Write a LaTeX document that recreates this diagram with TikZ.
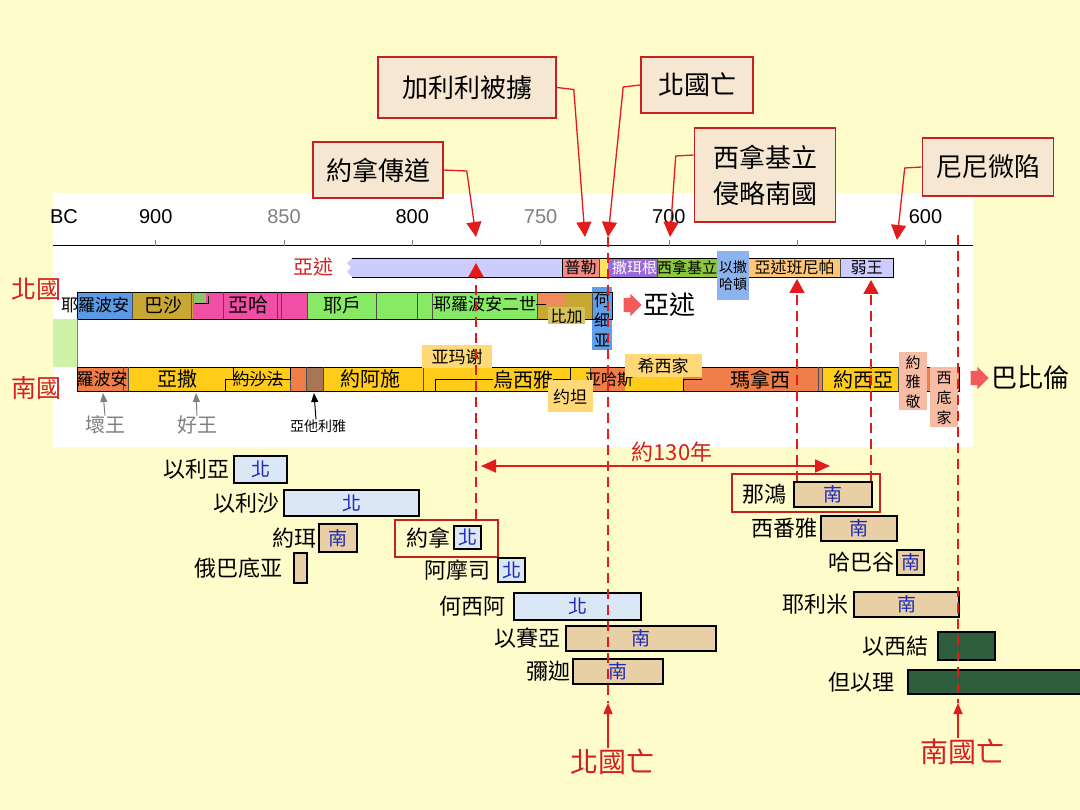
\documentclass[tikz,border=0pt]{standalone}
\usepackage{fontspec}
\setmainfont{Liberation Sans}
\newfontfamily\cjk{Noto Sans CJK TC}
\usepackage{xcolor}
\usetikzlibrary{positioning, arrows.meta, shapes.arrows}

\newcommand{\fsz}[1]{\fontsize{#1}{#1}\selectfont}

\definecolor{bgyellow}{HTML}{FFFCCB}
\definecolor{papyrus}{HTML}{F6E7D3}
\definecolor{framered}{HTML}{C8201E}
\definecolor{arrowred}{HTML}{E41B1B}
\definecolor{labelred}{HTML}{D42020}
\definecolor{assyrialav}{HTML}{CCCCFF}
\definecolor{pulpink}{HTML}{F28A8A}
\definecolor{tinyyellow}{HTML}{FFE45C}
\definecolor{sargonpurple}{HTML}{9A6ADB}
\definecolor{sennagreen}{HTML}{8DC63F}
\definecolor{esarblue}{HTML}{8DB3EE}
\definecolor{ashurorange}{HTML}{FFC677}
\definecolor{jerblue}{HTML}{5B9BE6}
\definecolor{bashaolive}{HTML}{C9A832}
\definecolor{ahabpink}{HTML}{F04FA5}
\definecolor{nadabgreen}{HTML}{8FC46A}
\definecolor{jehugreen}{HTML}{86EA64}
\definecolor{pekahorange}{HTML}{F08A5C}
\definecolor{pekaholive}{HTML}{D5C25A}
\definecolor{hosheablue}{HTML}{5F9FEA}
\definecolor{greenpad}{HTML}{CDF2A8}
\definecolor{rehoorange}{HTML}{F07E48}
\definecolor{asayellow}{HTML}{FFCC1A}
\definecolor{athabrown}{HTML}{A87556}
\definecolor{overlayyellow}{HTML}{FFD877}
\definecolor{salmonpale}{HTML}{F8BCA4}
\definecolor{fatred}{HTML}{F25B5B}
\definecolor{northfill}{HTML}{DCE7F5}
\definecolor{southfill}{HTML}{E8CFA5}
\definecolor{exilegreen}{HTML}{2F5E3F}
\definecolor{kingblue}{HTML}{1E2AB8}

\begin{document}
\begin{tikzpicture}[x=1pt, y=-1pt,
calloutbox/.style={draw=framered, line width=1.6pt, fill=papyrus, font=\cjk\fontsize{26}{36}\selectfont, inner sep=0pt, align=center},
calloutline/.style={draw=arrowred, line width=1.3pt, -{Triangle[width=15pt,length=15pt]}},
dashline/.style={draw=arrowred, line width=1.8pt, dash pattern=on 10pt off 6pt},
uparrow/.style={dashline, -{Triangle[width=15pt,length=14pt]}},
bottomarrow/.style={draw=arrowred, line width=1.5pt, -{Triangle[width=9pt,length=11pt]}},
spanarrow/.style={draw=arrowred, line width=1.8pt, {Triangle[width=13pt,length=15pt]}-{Triangle[width=13pt,length=15pt]}},
kingarrow/.style={line width=1pt, -{Triangle[width=7pt,length=9pt]}},
bartext/.style={inner sep=0pt, font=\cjk\fsz{#1}},
bartext/.default=17,
stacktext/.style 2 args={inner sep=0pt, align=center, font=\cjk\fontsize{#1}{#2}\selectfont},
barline/.style={draw=black, line width=0.7pt},
sepline/.style={draw=black!70, line width=0.5pt},
yearlabel/.style={font=\fsz{20}, inner sep=0pt},
prophet/.style={font=\cjk\fsz{22}, inner sep=1pt},
pbox/.style={draw=black, line width=1.4pt, inner sep=0pt, font=\cjk\fsz{19}, text=kingblue},
northbox/.style={pbox, fill=northfill},
southbox/.style={pbox, fill=southfill},
exilebox/.style={pbox, fill=exilegreen},
focusframe/.style={draw=framered, line width=2pt, inner sep=0pt},
fatarrow/.style={single arrow, fill=fatred, inner sep=0pt, text height=7pt, text depth=7pt, text width=8pt, minimum height=18pt, single arrow head extend=4pt, single arrow head indent=0pt},
redlabel/.style={text=labelred, font=\cjk\fsz{#1}, inner sep=1pt},
redlabel/.default=28,
]

% Page and chart panel
\fill[bgyellow] (0,0) rectangle (1080,810);
\useasboundingbox (0,0) rectangle (1080,810);
\fill[white] (53,193) rectangle (973,447);

% Time axis
\draw[line width=1pt] (53,246) -- (973,246);
\foreach \yr in {900,850,...,600}
  \draw[gray, line width=0.8pt] ({155.7+(900-\yr)*2.566},240) -- ++(0,6);
\node[yearlabel] (bc) at (64,217) {BC};
\foreach \yr/\col in {900/black,850/gray,800/black,750/gray,700/black,600/black}
  \node[yearlabel, text=\col] (y\yr) at ({155.7+(900-\yr)*2.566},217) {\yr};

% Event callouts
\node[calloutbox, minimum width=178pt, minimum height=61pt] (galilee) at (467,87.5) {加利利被擄};
\node[calloutbox, minimum width=112pt, minimum height=56pt] (northfall) at (697,85) {北國亡};
\node[calloutbox, minimum width=130pt, minimum height=56pt] (jonahpreach) at (378,170) {約拿傳道};
\node[calloutbox, minimum width=141pt, minimum height=94pt] (invasion) at (765,175) {西拿基立\\侵略南國};
\node[calloutbox, minimum width=131pt, minimum height=58pt] (nineveh) at (988,167) {尼尼微陷};

\coordinate (tipjonah) at (476,237);
\coordinate (tipgalilee) at (585,237);
\coordinate (tipnorth) at (608,237);
\coordinate (tipinvasion) at (670,237);
\coordinate (tipnineveh) at (897,240);

\draw[calloutline] (jonahpreach.east) -- ++(23,1) -- (tipjonah);
\draw[calloutline] (galilee.east) -- ++(17,2) -- (tipgalilee);
\draw[calloutline] (northfall.west) -- ++(-17,2) -- (tipnorth);
\draw[calloutline] (invasion.west) ++(0,-20) -- ++(-18,1) -- (tipinvasion);
\draw[calloutline] (nineveh.west) -- ++(-17,1) -- (tipnineveh);

% Assyria row
\fill[assyrialav] (352,258) -- (562,258) -- (562,277) -- (352,277) -- (347,272) -- (351,267.5) -- (347,263) -- cycle;
\fill[pulpink] (562,258) rectangle (599,277);
\fill[tinyyellow] (599,258) rectangle (608,277);
\fill[sargonpurple] (608,258) rectangle (657,277);
\fill[sennagreen] (657,258) rectangle (717,277);
\fill[ashurorange] (749,258) rectangle (840,277);
\fill[assyrialav] (840,258) rectangle (893,277);
\draw[barline] (352,258) -- (562,258) (352,277) -- (562,277);
\draw[barline] (562,258) rectangle (893,277);
\draw[sepline] (599,258) -- (599,277) (657,258) -- (657,277) (840,258) -- (840,277);
\fill[esarblue] (717,251) rectangle (749,300);

\node[redlabel=20] (assyria) at (313,267) {亞述};
\node[bartext=16] (pul) at (580.5,267.5) {普勒};
\node[bartext=15, text=white] (sargon) at (634.5,267.5) {撒珥根};
\node[bartext=15] (sennacherib) at (687,267.5) {西拿基立};
\node[stacktext={14}{17}] (esarhaddon) at (733,276) {以撒\\哈頓};
\node[bartext=16] (ashurbanipal) at (794.5,267.5) {亞述班尼帕};
\node[bartext=16] (weakkings) at (866.5,267.5) {弱王};

% Northern kingdom
\fill[jerblue] (77,292) rectangle (132,319);
\fill[bashaolive] (132,292) rectangle (193,319);
\fill[ahabpink] (193,292) rectangle (307,319);
\fill[nadabgreen] (194,292) rectangle (206,303);
\fill[jehugreen] (307,292) rectangle (537,319);
\fill[bashaolive] (537,292) rectangle (592,319);
\fill[pekahorange] (537,292) rectangle (566,305);
\fill[hosheablue] (592,287) rectangle (612,350);
\draw[barline] (77,292) rectangle (612,319);
\foreach \xx in {132,191,223,277,281,307,376,417,432,537,592}
  \draw[sepline] (\xx,292) -- (\xx,319);
\draw[barline] (195,303) -- (208,303) -- (208,296);
\fill[pekaholive] (548,307) rectangle (585,324);

\node[redlabel=25] (northking) at (37,289) {北國};
\node[bartext=17] (jeroboam) at (95,305) {耶羅波安};
\node[bartext=19] (baasha) at (163,305) {巴沙};
\node[bartext=20] (ahab) at (248,305) {亞哈};
\node[bartext=19] (jehu) at (342,305) {耶戶};
\node[bartext=17] (jeroboamii) at (485,304) {耶羅波安二世};
\draw[barline] (433,304) -- (444,304) (536,304) -- (546,304);
\node[bartext=16] (pekah) at (566.5,316) {比加};
\node[stacktext={16}{20}] (hoshea) at (602,320) {何\\细\\亚};
\node[fatarrow] (toassyria) at (629,305) {};
\node[bartext=26] (assyriaexile) at (669,305) {亞述};

\fill[greenpad] (53,319) rectangle (77,367);
\draw[gray, line width=0.6pt] (77,319) -- (77,367);

% Southern kingdom
\fill[rehoorange] (77,367) rectangle (128,391);
\fill[asayellow] (128,367) rectangle (290,391);
\fill[rehoorange] (290,367) rectangle (306,391);
\fill[athabrown] (306,367) rectangle (323,391);
\fill[asayellow] (323,367) rectangle (590,391);
\fill[rehoorange] (590,367) rectangle (625,391);
\fill[asayellow] (625,367) rectangle (683,391);
\fill[rehoorange] (683,367) rectangle (822,391);
\fill[asayellow] (822,367) rectangle (898,391);
\fill[rehoorange] (898,367) rectangle (959,391);
\draw[barline] (77,367) rectangle (959,391);
\foreach \xx in {123,128,290,306,323,423,590,818,822,898}
  \draw[sepline] (\xx,367) -- (\xx,391);
\draw[barline] (225,391) -- (225,379) -- (290,379) -- (290,367);
\draw[barline] (233,367) -- (233,379);
\draw[barline] (435,391) -- (435,379) -- (570,379) -- (570,367);
\draw[barline] (683,391) -- (683,379) -- (702,379);
\draw[barline] (580,380) -- (590,380);

\node[redlabel=25] (southking) at (37,388) {南國};
\node[bartext=17] (rehoboam) at (102,379) {羅波安};
\node[bartext=20] (asa) at (177,379) {亞撒};
\node[bartext=17] (jehoshaphat) at (258,379) {約沙法};
\node[bartext=20] (joash) at (370,379) {約阿施};
\node[bartext=20, fill=asayellow] (uzziah) at (523,380) {烏西雅};
\node[bartext=16] (ahaz) at (609,380) {亚哈斯};
\node[bartext=20] (manasseh) at (760,380) {瑪拿西};
\node[bartext=20] (josiah) at (863,380) {約西亞};

\fill[overlayyellow] (422,345) rectangle (492,368);
\node[bartext=17] (amaziah) at (457,357) {亚玛谢};
\fill[overlayyellow] (548,380) rectangle (593,412);
\node[bartext=17] (jotham) at (570,397) {约坦};
\fill[overlayyellow] (625,354) rectangle (702,377);
\node[bartext=17] (hezekiah) at (663,366) {希西家};
\fill[salmonpale] (899,352) rectangle (927,410);
\node[stacktext={15}{19.5}] (jehoiakim) at (913,382) {約\\雅\\敬};
\fill[salmonpale] (930,367) rectangle (958,427);
\node[stacktext={15}{20}] (zedekiah) at (944,398) {西\\底\\家};
\node[fatarrow] (tobabylon) at (976,378) {};
\node[bartext=26] (babylon) at (1030,378) {巴比倫};

% Kings under the bar
\node[bartext=20, text=gray] (badking) at (105,425) {壞王};
\node[bartext=20, text=gray] (goodking) at (197,425) {好王};
\node[bartext=14] (athaliah) at (318,426) {亞他利雅};
\coordinate (badtip) at (103,393);
\coordinate (goodtip) at (196,393);
\coordinate (athtip) at (314,393);
\draw[kingarrow, gray] (badking.north) -- (badtip);
\draw[kingarrow, gray] (goodking.north) -- (goodtip);
\draw[kingarrow] ([xshift=-2pt]athaliah.north) -- (athtip);

% Prophets
\node[northbox, minimum width=53pt, minimum height=27pt] (elijahbox) at (260.5,469.5) {北};
\node[prophet, left=3pt of elijahbox] (elijah) {以利亞};
\node[northbox, minimum width=135pt, minimum height=26pt] (elishabox) at (351.5,503) {北};
\node[prophet, left=3pt of elishabox] (elisha) {以利沙};
\node[southbox, minimum width=38pt, minimum height=28pt] (joelbox) at (338,538) {南};
\node[prophet, left=1pt of joelbox] (joel) {約珥};
\node[southbox, minimum width=13pt, minimum height=30pt] (obadiahbox) at (300.5,568) {};
\node[prophet, left=10pt of obadiahbox] (obadiah) {俄巴底亚};
\node[focusframe, minimum width=103pt, minimum height=37pt] (jonahframe) at (446.5,538.5) {};
\node[northbox, minimum width=27pt, minimum height=23pt] (jonahbox) at (467.5,537.5) {北};
\node[prophet, left=2pt of jonahbox] (jonah) {約拿};
\node[northbox, minimum width=27pt, minimum height=24pt] (amosbox) at (511.5,570) {北};
\node[prophet, left=6pt of amosbox] (amos) {阿摩司};
\node[northbox, minimum width=127pt, minimum height=27pt] (hoseabox) at (577.5,606.5) {北};
\node[prophet, left=7pt of hoseabox] (hosea) {何西阿};
\node[southbox, minimum width=150pt, minimum height=25pt] (isaiahbox) at (641,638.5) {南};
\node[prophet, left=4pt of isaiahbox] (isaiah) {以賽亞};
\node[southbox, minimum width=90pt, minimum height=25pt] (micahbox) at (618,671.5) {南};
\node[prophet, left=1pt of micahbox] (micah) {彌迦};

\node[focusframe, minimum width=148pt, minimum height=38pt] (nahumframe) at (806,493) {};
\node[southbox, minimum width=78pt, minimum height=25pt] (nahumbox) at (833,494.5) {南};
\node[prophet, left=6pt of nahumbox] (nahum) {那鴻};
\node[southbox, minimum width=76pt, minimum height=25pt] (zephaniahbox) at (859,528.5) {南};
\node[prophet, left=2pt of zephaniahbox] (zephaniah) {西番雅};
\node[southbox, minimum width=27pt, minimum height=25pt] (habakkukbox) at (910.5,562.5) {南};
\node[prophet, left=1pt of habakkukbox] (habakkuk) {哈巴谷};
\node[southbox, minimum width=105pt, minimum height=25pt] (jeremiahbox) at (906.5,604.5) {南};
\node[prophet, left=4pt of jeremiahbox] (jeremiah) {耶利米};
\node[exilebox, minimum width=57pt, minimum height=28pt] (ezekielbox) at (966.5,646) {};
\node[prophet, left=8pt of ezekielbox] (ezekiel) {以西結};
\node[exilebox, minimum width=174pt, minimum height=24pt] (danielbox) at (995,682) {};
\node[prophet, left=12pt of danielbox] (daniel) {但以理};

% Dashed markers
\coordinate (jonahup) at (476,263);
\coordinate (nahumup) at (797,279);
\coordinate (weakup) at (871,280);
\coordinate (northend) at (608,703);
\coordinate (southtop) at (958,235);
\coordinate (southend) at (958,703);
\draw[uparrow] (jonahup |- jonahframe.north) -- (jonahup);
\draw[uparrow] (nahumup |- nahumbox.north) -- (nahumup);
\draw[uparrow] (weakup |- nahumbox.north) -- (weakup);
\draw[dashline] (tipnorth) -- (northend);
\draw[dashline] (southtop) -- (southend);

\node[redlabel] (northendlabel) at (612,762) {北國亡};
\node[redlabel] (southendlabel) at (962,752) {南國亡};
\draw[bottomarrow] (northendlabel.north -| northend) -- (northend);
\draw[bottomarrow] (southendlabel.north -| southend) -- (southend);

% About 130 years
\coordinate (spanleft) at (481,466);
\coordinate (spanright) at (830,466);
\draw[spanarrow] (spanleft) -- (spanright);
\node[redlabel=22] (spanlabel) at (672,452) {約130年};

\end{tikzpicture}
\end{document}
